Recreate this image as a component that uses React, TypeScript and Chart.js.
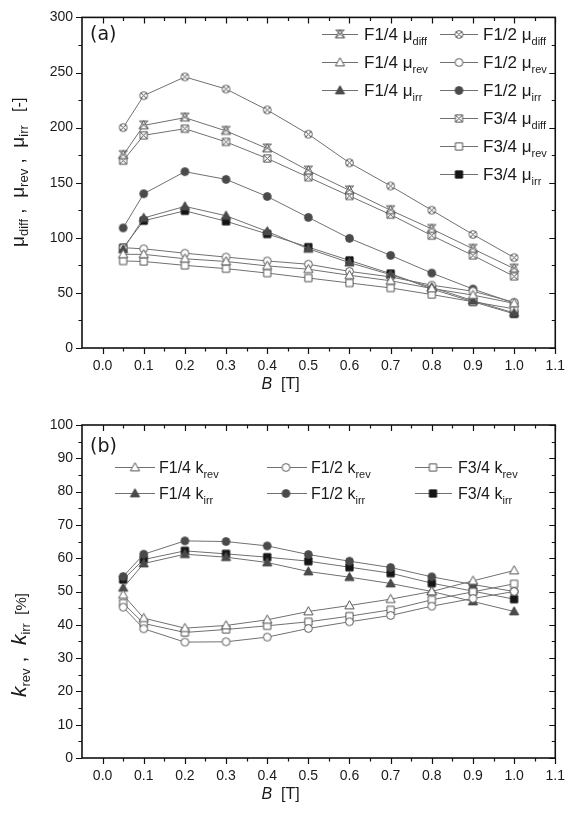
import React, { useEffect, useRef } from 'react';
import { Chart, registerables } from 'chart.js';
Chart.register(...registerables);

// ---------- data ----------
const B = [0.05, 0.1, 0.2, 0.3, 0.4, 0.5, 0.6, 0.7, 0.8, 0.9, 1.0];
const xTickLabels = ['0.0', '0.1', '0.2', '0.3', '0.4', '0.5', '0.6', '0.7', '0.8', '0.9', '1.0', '1.1'];
const yTicksA = [0, 50, 100, 150, 200, 250, 300];
const yTicksB = [0, 10, 20, 30, 40, 50, 60, 70, 80, 90, 100];

// panel (a)
const muDiffF14 = [175, 202, 209, 197, 181, 161, 143, 125, 108, 90, 72];
const muRevF14 = [85, 85, 81, 78.5, 74.5, 71.5, 66, 61, 54, 48, 40.5];
const muIrrF14 = [89.5, 118, 128.5, 120, 105.8, 90, 77.5, 66.5, 55, 43, 31.8];
const muDiffF12 = [200, 229, 246, 235, 216, 194, 168, 147, 125, 103, 82];
const muRevF12 = [91, 90, 86, 82.5, 79, 76, 69.5, 64.5, 57, 51.5, 41.5];
const muIrrF12 = [109, 140, 160, 153, 137.5, 118.5, 99.5, 84, 68, 53.5, 40.8];
const muDiffF34 = [170, 193, 199, 187, 172, 155, 138, 121, 102, 84, 65];
const muRevF34 = [79, 78.5, 75, 72, 68, 63.5, 59, 54.5, 48.5, 42, 35.5];
const muIrrF34 = [91, 115.5, 124.5, 115, 103.5, 91.5, 79.5, 67.5, 53.5, 42, 31];

// panel (b)
const kRevF14 = [49.0, 42.0, 39.0, 39.8, 41.5, 44.0, 45.8, 47.7, 50.0, 53.2, 56.3];
const kIrrF14 = [51.1, 58.4, 61.2, 60.3, 58.7, 56.0, 54.3, 52.4, 50.0, 47.0, 44.0];
const kRevF12 = [45.3, 38.8, 34.8, 34.9, 36.3, 38.9, 40.9, 42.8, 45.6, 47.9, 50.0];
const kIrrF12 = [54.5, 61.2, 65.2, 65.0, 63.7, 61.1, 59.1, 57.2, 54.4, 52.1, 50.0];
const kRevF34 = [46.5, 40.4, 37.7, 38.6, 39.7, 40.9, 42.6, 44.5, 47.5, 49.9, 52.3];
const kIrrF34 = [53.6, 59.6, 62.2, 61.3, 60.3, 59.1, 57.3, 55.5, 52.5, 50.1, 47.7];

// ---------- styling ----------
const FONT = '"Liberation Sans", Arial, Helvetica, sans-serif';
const LINE = '#707070';
const OPEN = '#555555';
const DARK = '#4a4a4a';
const BLACK = '#161616';
const TEXT = '#1a1a1a';

type Shape = 'tri' | 'circle' | 'square' | 'triX' | 'circleX' | 'squareX';

function makeMarker(shape: Shape, filled: boolean, color: string): HTMLCanvasElement {
  const c = document.createElement('canvas');
  c.width = 13;
  c.height = 13;
  const g = c.getContext('2d')!;
  g.translate(6.5, 6.5);
  g.lineWidth = 1;
  g.strokeStyle = color;
  g.fillStyle = filled ? color : '#ffffff';
  g.beginPath();
  if (shape === 'circle' || shape === 'circleX') g.arc(0, 0, 3.9, 0, Math.PI * 2);
  else if (shape === 'tri' || shape === 'triX') {
    g.moveTo(0, -4.8);
    g.lineTo(4.6, 3.4);
    g.lineTo(-4.6, 3.4);
    g.closePath();
  } else g.rect(-3.6, -3.6, 7.2, 7.2);
  g.fill();
  g.stroke();
  g.beginPath();
  if (shape === 'circleX') {
    g.moveTo(-2.8, -2.8); g.lineTo(2.8, 2.8);
    g.moveTo(2.8, -2.8); g.lineTo(-2.8, 2.8);
  } else if (shape === 'squareX') {
    g.moveTo(-3.6, -3.6); g.lineTo(3.6, 3.6);
    g.moveTo(3.6, -3.6); g.lineTo(-3.6, 3.6);
  } else if (shape === 'triX') {
    g.moveTo(-4.2, -4.4); g.lineTo(4.2, 3.4);
    g.moveTo(4.2, -4.4); g.lineTo(-4.2, 3.4);
    g.moveTo(-4.2, -4.4); g.lineTo(4.2, -4.4);
  }
  g.stroke();
  return c;
}

type Part = { t: string; sub?: boolean; it?: boolean; size?: number };

function drawRich(ctx: CanvasRenderingContext2D, parts: Part[], x: number, y: number, main: number, sub: number, subDy: number) {
  let cx = x;
  for (const p of parts) {
    const size = p.size ?? (p.sub ? sub : main);
    ctx.font = `${p.it ? 'italic ' : ''}${size}px ${FONT}`;
    ctx.fillText(p.t, cx, p.sub ? y + subDy : y);
    cx += ctx.measureText(p.t).width;
  }
  return cx - x;
}
function measureRich(ctx: CanvasRenderingContext2D, parts: Part[], main: number, sub: number) {
  let w = 0;
  for (const p of parts) {
    const size = p.size ?? (p.sub ? sub : main);
    ctx.font = `${p.it ? 'italic ' : ''}${size}px ${FONT}`;
    w += ctx.measureText(p.t).width;
  }
  return w;
}

type LegendItem = { lx1: number; lx2: number; mx: number; tx: number; y: number; marker: HTMLCanvasElement; parts: Part[] };

type FrameCfg = {
  xMajor: number[];
  yMajor: number[];
  yMinorStep: number;
  panelLabel: { t: string; x: number; y: number };
  legend: LegendItem[];
  legendSize: number;
  legendSub: number;
  xTitleY: number;
  yTitle: { parts: Part[]; x: number; yBottom: number; main: number; sub: number; subDy: number };
};

function framePlugin(cfg: FrameCfg) {
  return {
    id: 'frame',
    afterDraw(chart: any) {
      const ctx: CanvasRenderingContext2D = chart.ctx;
      const a = chart.chartArea;
      const xs = chart.scales.x;
      const ys = chart.scales.y;
      ctx.save();
      // ticks
      ctx.strokeStyle = '#111';
      ctx.lineWidth = 1.2;
      ctx.beginPath();
      const xMinors: number[] = [];
      for (const v of cfg.xMajor) {
        const m = +(v + 0.05).toFixed(3);
        if (m < 1.1) xMinors.push(m);
      }
      for (const v of cfg.xMajor) {
        const px = Math.round(xs.getPixelForValue(v)) + 0.5;
        ctx.moveTo(px, a.bottom); ctx.lineTo(px, a.bottom + 6);
        ctx.moveTo(px, a.top); ctx.lineTo(px, a.top + 6);
      }
      for (const v of xMinors) {
        const px = Math.round(xs.getPixelForValue(v)) + 0.5;
        ctx.moveTo(px, a.bottom); ctx.lineTo(px, a.bottom + 3.5);
        ctx.moveTo(px, a.top); ctx.lineTo(px, a.top + 3.5);
      }
      const yMax = cfg.yMajor[cfg.yMajor.length - 1];
      for (let v = 0; v <= yMax + 1e-9; v += cfg.yMinorStep) {
        const major = cfg.yMajor.some((m) => Math.abs(m - v) < 1e-6);
        const len = major ? 6 : 3.5;
        const py = Math.round(ys.getPixelForValue(v)) + 0.5;
        ctx.moveTo(a.left, py); ctx.lineTo(a.left - len, py);
        ctx.moveTo(a.right, py); ctx.lineTo(a.right - len, py);
      }
      ctx.stroke();
      // frame
      ctx.lineWidth = 1.6;
      ctx.strokeRect(a.left, a.top, a.right - a.left, a.bottom - a.top);

      // panel label
      ctx.fillStyle = TEXT;
      ctx.textBaseline = 'middle';
      ctx.font = `19px "DejaVu Sans", ${FONT}`;
      ctx.fillText(cfg.panelLabel.t, cfg.panelLabel.x, cfg.panelLabel.y);

      // legend
      ctx.textBaseline = 'alphabetic';
      for (const it of cfg.legend) {
        ctx.strokeStyle = LINE;
        ctx.lineWidth = 1;
        ctx.beginPath();
        ctx.moveTo(it.lx1, it.y + 0.5);
        ctx.lineTo(it.lx2, it.y + 0.5);
        ctx.stroke();
        ctx.drawImage(it.marker, it.mx - it.marker.width / 2, it.y + 0.5 - it.marker.height / 2);
        ctx.fillStyle = TEXT;
        drawRich(ctx, it.parts, it.tx, it.y + cfg.legendSize * 0.36, cfg.legendSize, cfg.legendSub, 5);
      }

      // x title
      const xt: Part[] = [{ t: 'B', it: true }, { t: '  [T]' }];
      const w = measureRich(ctx, xt, 16, 11);
      const cx = (a.left + a.right) / 2 - 38;
      drawRich(ctx, xt, cx - w / 2, cfg.xTitleY, 16, 11, 0);

      // y title (rotated)
      const yt = cfg.yTitle;
      ctx.translate(yt.x, yt.yBottom);
      ctx.rotate(-Math.PI / 2);
      drawRich(ctx, yt.parts, 0, 0, yt.main, yt.sub, yt.subDy);
      ctx.restore();
    },
  };
}

function ticksCfg(labels?: string[]) {
  return {
    padding: 10,
    color: TEXT,
    font: { family: FONT, size: 14 },
    maxRotation: 0,
    autoSkip: false,
    callback: labels
      ? (v: any) => {
          const i = Math.round(Number(v) * 10);
          return labels[i] ?? '';
        }
      : (v: any) => String(v),
  };
}

function makeDs(label: string, arr: number[], marker: HTMLCanvasElement) {
  return {
    label,
    data: B.map((x, i) => ({ x, y: arr[i] })),
    borderColor: LINE,
    backgroundColor: LINE,
    borderWidth: 1,
    pointStyle: marker,
    pointRadius: 4,
    pointHoverRadius: 4,
    tension: 0,
    fill: false,
  };
}

const xMajorVals = xTickLabels.map((s) => parseFloat(s));

function buildOptions(yMin: number, yMax: number, yTicks: number[], topPad: number, xHeight: number) {
  return {
    animation: false as const,
    responsive: false,
    devicePixelRatio: 1,
    events: [] as any[],
    layout: { padding: { top: topPad, right: 14, left: 0, bottom: 0 } },
    plugins: { legend: { display: false }, tooltip: { enabled: false } },
    scales: {
      x: {
        type: 'linear' as const,
        min: -0.05,
        max: 1.1,
        grid: { display: false, drawTicks: false },
        border: { display: false },
        ticks: ticksCfg(xTickLabels),
        afterBuildTicks: (s: any) => {
          s.ticks = xMajorVals.map((value) => ({ value }));
        },
        afterFit: (s: any) => {
          s.height = xHeight;
        },
      },
      y: {
        type: 'linear' as const,
        min: yMin,
        max: yMax,
        grid: { display: false, drawTicks: false },
        border: { display: false },
        ticks: { ...ticksCfg(), padding: 9 },
        afterBuildTicks: (s: any) => {
          s.ticks = yTicks.map((value) => ({ value }));
        },
        afterFit: (s: any) => {
          s.width = 82;
        },
      },
    },
  };
}

export default function App() {
  const refA = useRef<HTMLCanvasElement>(null);
  const refB = useRef<HTMLCanvasElement>(null);

  useEffect(() => {
    document.body.style.margin = '0';
    document.body.style.background = '#ffffff';
    const M = {
      triX: makeMarker('triX', false, OPEN),
      tri: makeMarker('tri', false, OPEN),
      triF: makeMarker('tri', true, DARK),
      circleX: makeMarker('circleX', false, OPEN),
      circle: makeMarker('circle', false, OPEN),
      circleF: makeMarker('circle', true, DARK),
      squareX: makeMarker('squareX', false, OPEN),
      square: makeMarker('square', false, OPEN),
      squareF: makeMarker('square', true, BLACK),
    };

    // legend (a)
    const c1 = { lx1: 322, lx2: 358, mx: 340, tx: 364 };
    const c2 = { lx1: 440, lx2: 478, mx: 459, tx: 483 };
    const rowsA = [34, 62, 90, 118, 146, 174];
    const mu = (s: string): Part[] => [{ t: s + ' \u03BC' }, { t: '', sub: true }];
    const legA: LegendItem[] = [
      { ...c1, y: rowsA[0], marker: M.triX, parts: [{ t: 'F1/4 \u03BC' }, { t: 'diff', sub: true }] },
      { ...c1, y: rowsA[1], marker: M.tri, parts: [{ t: 'F1/4 \u03BC' }, { t: 'rev', sub: true }] },
      { ...c1, y: rowsA[2], marker: M.triF, parts: [{ t: 'F1/4 \u03BC' }, { t: 'irr', sub: true }] },
      { ...c2, y: rowsA[0], marker: M.circleX, parts: [{ t: 'F1/2 \u03BC' }, { t: 'diff', sub: true }] },
      { ...c2, y: rowsA[1], marker: M.circle, parts: [{ t: 'F1/2 \u03BC' }, { t: 'rev', sub: true }] },
      { ...c2, y: rowsA[2], marker: M.circleF, parts: [{ t: 'F1/2 \u03BC' }, { t: 'irr', sub: true }] },
      { ...c2, y: rowsA[3], marker: M.squareX, parts: [{ t: 'F3/4 \u03BC' }, { t: 'diff', sub: true }] },
      { ...c2, y: rowsA[4], marker: M.square, parts: [{ t: 'F3/4 \u03BC' }, { t: 'rev', sub: true }] },
      { ...c2, y: rowsA[5], marker: M.squareF, parts: [{ t: 'F3/4 \u03BC' }, { t: 'irr', sub: true }] },
    ];
    void mu;

    const chartA = new Chart(refA.current!, {
      type: 'line',
      data: {
        datasets: [
          makeDs('F1/4 mu_diff', muDiffF14, M.triX),
          makeDs('F1/4 mu_rev', muRevF14, M.tri),
          makeDs('F1/4 mu_irr', muIrrF14, M.triF),
          makeDs('F1/2 mu_diff', muDiffF12, M.circleX),
          makeDs('F1/2 mu_rev', muRevF12, M.circle),
          makeDs('F1/2 mu_irr', muIrrF12, M.circleF),
          makeDs('F3/4 mu_diff', muDiffF34, M.squareX),
          makeDs('F3/4 mu_rev', muRevF34, M.square),
          makeDs('F3/4 mu_irr', muIrrF34, M.squareF),
        ] as any,
      },
      options: buildOptions(0, 300, yTicksA, 15, 52) as any,
      plugins: [
        framePlugin({
          xMajor: xMajorVals,
          yMajor: yTicksA,
          yMinorStep: 25,
          panelLabel: { t: '(a)', x: 90, y: 35 },
          legend: legA,
          legendSize: 17,
          legendSub: 11,
          xTitleY: 389,
          yTitle: {
            parts: [
              { t: '\u03BC' }, { t: 'diff', sub: true }, { t: ' ,  ' },
              { t: '\u03BC' }, { t: 'rev', sub: true }, { t: ' ,  ' },
              { t: '\u03BC' }, { t: 'irr', sub: true }, { t: '   [-]', size: 16 },
            ],
            x: 24,
            yBottom: 247,
            main: 19,
            sub: 13,
            subDy: 4,
          },
        }) as any,
      ],
    });

    // legend (b)
    const rowsB = [67, 93];
    const b1 = { lx1: 115, lx2: 155, mx: 135, tx: 159 };
    const b2 = { lx1: 267, lx2: 307, mx: 286, tx: 311 };
    const b3 = { lx1: 415, lx2: 452, mx: 433, tx: 458 };
    const legB: LegendItem[] = [
      { ...b1, y: rowsB[0], marker: M.tri, parts: [{ t: 'F1/4 k' }, { t: 'rev', sub: true }] },
      { ...b1, y: rowsB[1], marker: M.triF, parts: [{ t: 'F1/4 k' }, { t: 'irr', sub: true }] },
      { ...b2, y: rowsB[0], marker: M.circle, parts: [{ t: 'F1/2 k' }, { t: 'rev', sub: true }] },
      { ...b2, y: rowsB[1], marker: M.circleF, parts: [{ t: 'F1/2 k' }, { t: 'irr', sub: true }] },
      { ...b3, y: rowsB[0], marker: M.square, parts: [{ t: 'F3/4 k' }, { t: 'rev', sub: true }] },
      { ...b3, y: rowsB[1], marker: M.squareF, parts: [{ t: 'F3/4 k' }, { t: 'irr', sub: true }] },
    ];

    const chartB = new Chart(refB.current!, {
      type: 'line',
      data: {
        datasets: [
          makeDs('F1/4 k_rev', kRevF14, M.tri),
          makeDs('F1/2 k_rev', kRevF12, M.circle),
          makeDs('F3/4 k_rev', kRevF34, M.square),
          makeDs('F1/4 k_irr', kIrrF14, M.triF),
          makeDs('F1/2 k_irr', kIrrF12, M.circleF),
          makeDs('F3/4 k_irr', kIrrF34, M.squareF),
        ] as any,
      },
      options: buildOptions(0, 100, yTicksB, 25, 56) as any,
      plugins: [
        framePlugin({
          xMajor: xMajorVals,
          yMajor: yTicksB,
          yMinorStep: 5,
          panelLabel: { t: '(b)', x: 90, y: 47 },
          legend: legB,
          legendSize: 16,
          legendSub: 11,
          xTitleY: 399,
          yTitle: {
            parts: [
              { t: 'k', it: true }, { t: 'rev', sub: true }, { t: ' ,  ' },
              { t: 'k', it: true }, { t: 'irr', sub: true }, { t: '  [%]', size: 15 },
            ],
            x: 26,
            yBottom: 297,
            main: 21,
            sub: 13,
            subDy: 4,
          },
        }) as any,
      ],
    });

    return () => {
      chartA.destroy();
      chartB.destroy();
    };
  }, []);

  return (
    <div style={{ position: 'relative', width: 575, height: 814, background: '#fff' }}>
      <canvas ref={refA} width={575} height={400} style={{ position: 'absolute', left: 0, top: 0, width: 575, height: 400 }} />
      <canvas ref={refB} width={575} height={414} style={{ position: 'absolute', left: 0, top: 400, width: 575, height: 414 }} />
    </div>
  );
}
